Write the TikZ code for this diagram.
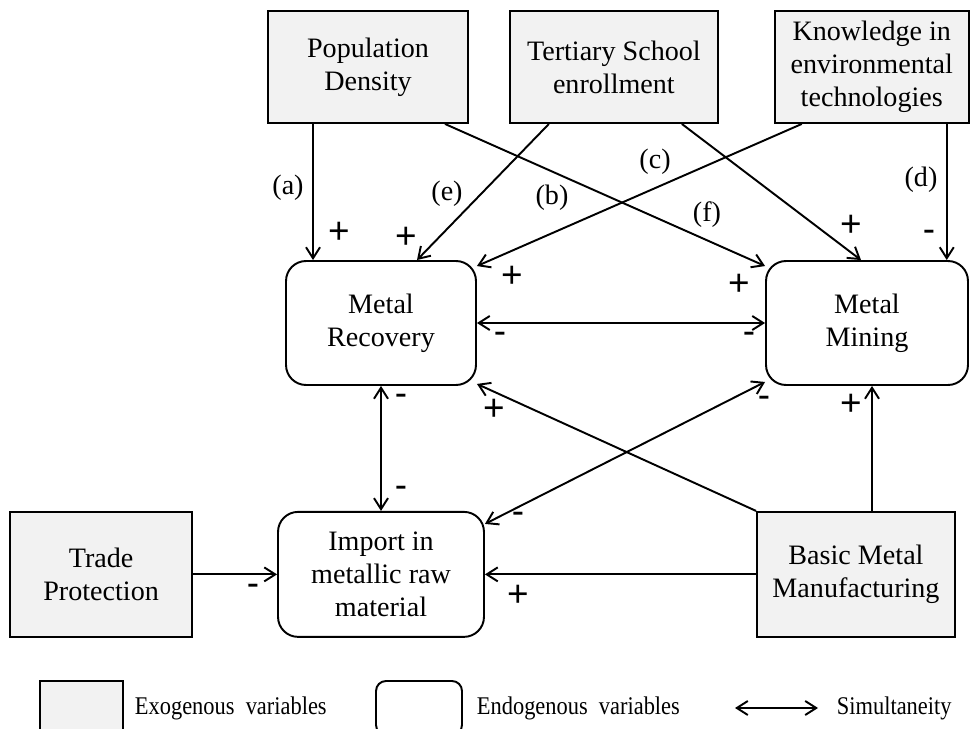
\documentclass[tikz,border=0pt]{standalone}
\usepackage{fontspec}
\setmainfont{Liberation Serif}
\newfontfamily\signfont{Liberation Sans}
\usetikzlibrary{arrows.meta,positioning}
\definecolor{exofill}{RGB}{242,242,242}

\begin{document}
\begin{tikzpicture}[x=0.02cm, y=-0.02cm, line width=1.1pt,
  every node/.style={font=\fontsize{16}{18.7}\selectfont, inner sep=0pt},
  exo/.style={draw, fill=exofill, align=center, minimum height=2.24cm},
  endo/.style={draw, rounded corners=0.4cm, align=center, minimum height=2.48cm},
  sgn/.style={font=\signfont\fontsize{21}{22}\selectfont},
  lab/.style={font=\fontsize{16}{18}\selectfont},
  legtxt/.style={font=\fontsize{14.5}{16}\selectfont, anchor=west},
  dir/.style={-{Straight Barb[length=2.2mm,width=2.8mm]}},
  simul/.style={{Straight Barb[length=2.2mm,width=2.8mm]}-{Straight Barb[length=2.2mm,width=2.8mm]}}]
\useasboundingbox (0,0) rectangle (970,729);

% exogenous variables, top row
\node[exo, minimum width=4cm] (pop) at (368,67) {Population\\Density};
\node[exo, minimum width=4.16cm, right=0.8cm of pop] (ter) {Tertiary School\\enrollment};
\node[exo, minimum width=3.88cm, right=1.1cm of ter] (know) {Knowledge in\\environmental\\technologies};

% endogenous variables
\node[endo, minimum width=3.8cm] (rec) at (381,323) {Metal\\Recovery};
\node[endo, minimum width=4.04cm] (min) at (867,323) {Metal\\Mining};
\node[endo, minimum width=4.12cm, minimum height=2.5cm, below=2.5cm of rec] (imp) {Import in\\metallic raw\\material};

% exogenous variables, bottom row
\node[exo, minimum width=3.64cm, minimum height=2.5cm, left=1.68cm of imp] (tra) {Trade\\Protection};
\node[exo, minimum width=3.96cm, minimum height=2.5cm] (bas) at (imp.center -| 856,0) {Basic Metal\\Manufacturing};

% effects
\draw[dir] ([xshift=-1.1cm]pop.south) -- ([xshift=-1.1cm]pop.south |- rec.north);
\draw[dir] ([xshift=1.54cm]pop.south) -- ([yshift=-0.12cm]min.north west);
\draw[dir] ([xshift=-1.3cm]ter.south) -- ([xshift=0.72cm]rec.north);
\draw[dir] ([xshift=-1.4cm]know.south) -- ([yshift=-0.12cm]rec.north east);
\draw[dir] ([xshift=1.36cm]ter.south) -- ([xshift=-0.12cm]min.north);
\draw[dir] ([xshift=1.5cm]know.south) -- ([xshift=1.5cm]know.south |- min.north);
\draw[simul] (rec.east) -- (min.west);
\draw[simul] (rec.south) -- (imp.north);
\draw[simul] ([yshift=0.08cm]min.south west) -- ([yshift=-0.26cm]imp.north east);
\draw[dir] (bas.north west) -- ([yshift=0.04cm]rec.south east);
\draw[dir] (bas.west) -- (imp.east);
\draw[dir] (tra.east) -- (imp.west);
\draw[dir] ([xshift=0.32cm]bas.north) -- ([xshift=0.32cm]bas.north |- min.south);

% path labels
\node[lab] (la) at (288,188) {(a)};
\node[lab] (le) at (447,194) {(e)};
\node[lab] (lb) at (552,198) {(b)};
\node[lab] (lc) at (655,162) {(c)};
\node[lab] (lf) at (707,215) {(f)};
\node[lab] (ld) at (921,180) {(d)};

% signs
\node[sgn] (s1) at (339,233) {+};
\node[sgn] (s2) at (406,238) {+};
\node[sgn] (s3) at (512,277) {+};
\node[sgn] (s4) at (739,285) {+};
\node[sgn] (s5) at (851,226) {+};
\node[sgn] (s6) at (929,236) {-};
\node[sgn] (s7) at (500,338) {-};
\node[sgn] (s8) at (749,338) {-};
\node[sgn] (s9) at (401,400) {-};
\node[sgn] (s10) at (401,492) {-};
\node[sgn] (s11) at (494,410) {+};
\node[sgn] (s12) at (764,402) {-};
\node[sgn] (s13) at (518,518) {-};
\node[sgn] (s14) at (851,405) {+};
\node[sgn] (s15) at (518,596) {+};
\node[sgn] (s16) at (253,590) {-};

% legend
\node[draw, fill=exofill, minimum width=1.66cm, minimum height=1.08cm] (lexo) at (81.5,708) {};
\node[legtxt, right=0.2cm of lexo] (texo) {\scalebox{0.88}[1]{Exogenous\ \ variables}};
\node[draw, rounded corners=0.2cm, minimum width=1.72cm, minimum height=1.08cm] (lendo) at (419,708) {};
\node[legtxt, right=0.26cm of lendo] (tendo) {\scalebox{0.88}[1]{Endogenous\ \ variables}};
\coordinate (sa) at (735,708);
\coordinate (sb) at (818,708);
\draw[simul] (sa) -- (sb);
\node[legtxt, right=0.36cm of sb] (tsim) {\scalebox{0.88}[1]{Simultaneity}};
\end{tikzpicture}
\end{document}
